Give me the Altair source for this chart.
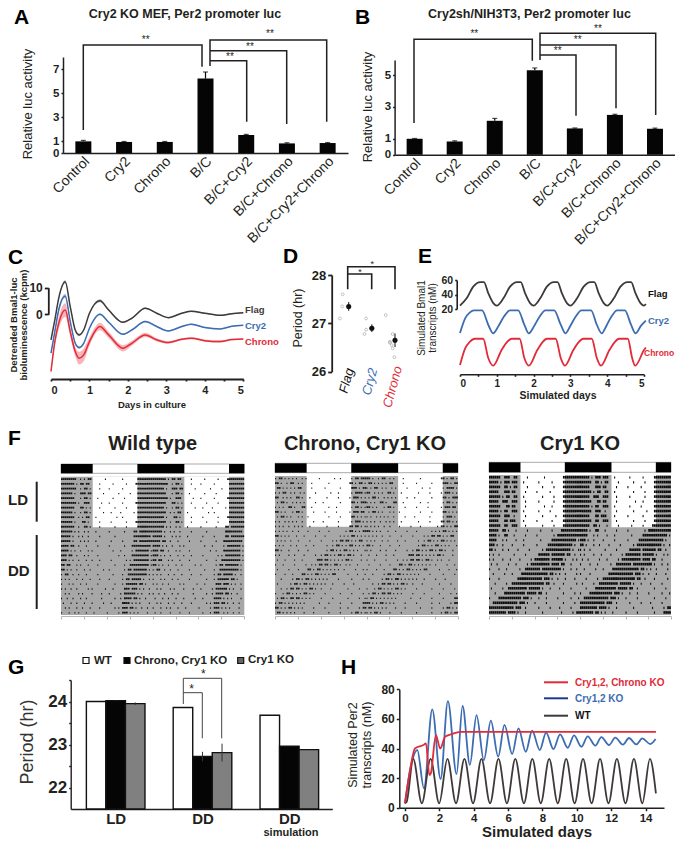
import altair as alt
import pandas as pd

W, H = 667, 831
FONT = "Liberation Sans"
INK = "#231f20"
RED = "#e12b38"
BLUE = "#3c6cb1"
DARK = "#3f3a39"

# ---------- data ----------
cats = ["Control", "Cry2", "Chrono", "B/C", "B/C+Cry2", "B/C+Chrono", "B/C+Cry2+Chrono"]
a_vals = [0.97, 0.92, 0.92, 6.2, 1.5, 0.8, 0.83]
a_errs = [0.08, 0.04, 0.04, 0.55, 0.05, 0.05, 0.04]
b_vals = [1.0, 0.83, 2.13, 5.3, 1.65, 2.5, 1.63]
b_errs = [0.02, 0.04, 0.15, 0.15, 0.03, 0.04, 0.04]

c_days = [0, .1, .2, .37, .5, .63, .73, .85, 1.0, 1.27, 1.5, 1.87, 2.1, 2.45, 2.75, 3.05, 3.4, 3.65, 4, 4.4, 4.7, 5]
c_flag = [-9.6, -2.1, 6, 12.2, 2.9, -5.9, -7.75, -5.9, .4, 5.1, 1.6, -3, -1.5, 2.25, .4, -1.25, .4, 1.1, .4, -.4, .25, .6]
c_cry2 = [-14.6, -6.5, 1.6, 6.9, -2.75, -10.9, -12.5, -10.9, -5.25, 0, -3, -7.5, -5.9, -2.75, -4.6, -6.25, -4.6, -3.75, -5, -5.5, -4.5, -4.1]
c_chrono = [-21.5, -10.25, -3.4, 1.6, -6.5, -14, -16.5, -15.25, -10.25, -4.6, -7.75, -12.75, -10.9, -7.75, -9.6, -10.6, -9.4, -9, -9.9, -10.25, -9.5, -9.25]
c_flag_sd = [.2, .4, .5, .6, .4, .4, .5, .4, .3, .6, .4, .3, .3, .3, .2, .2, .2, .2, .2, .2, .2, .2]
c_cry2_sd = [.3, .5, .8, .8, .5, .5, .5, .5, .4, .4, .3, .3, .3, .3, .3, .2, .3, .3, .2, .2, .2, .2]
c_chrono_sd = [.8, 1.6, 2.2, 2.6, 1.8, 1.8, 2.4, 2.4, 1.6, 1.4, 1.2, 1.2, .9, .8, .6, .5, .4, .4, .4, .4, .3, .3]

d_dot_x = [-.38, -.28, -.26, .68, .75, .75, .96, 1.6, 1.78, 1.78, 1.86, 1.9, 1.9, 1.97]
d_dot_y = [27.1, 27.35, 27.6, 26.78, 26.87, 27.1, 26.9, 27.17, 26.6, 26.62, 26.55, 26.78, 26.48, 26.3]
d_pos = [0, 1, 2]
d_mean = [27.35, 26.9, 26.65]
d_err = [.09, .08, .14]

e_flag_d = [0, .18, .36, .55, .65, .77, .91, 1.0, 1.18, 1.36, 1.55, 1.65, 1.77, 1.91, 2.0, 2.18, 2.36, 2.55, 2.65, 2.77, 2.91, 3.0,
            3.18, 3.36, 3.55, 3.65, 3.77, 3.91, 4.0, 4.18, 4.36, 4.55, 4.65, 4.77, 4.91, 5.0, 5.05]
e_flag_v = [24.6, 34.7, 50.8, 57.2, 57.2, 41.6, 27.8, 24.6, 34.7, 50.8, 57.2, 57.2, 41.6, 27.8, 24.6, 34.7, 50.8, 57.2, 57.2, 41.6, 27.8, 24.6,
            34.7, 50.8, 57.2, 57.2, 41.6, 27.8, 24.6, 34.7, 50.8, 57.2, 57.2, 41.6, 27.8, 24.6, 27]
e_cry2_d = [0, .14, .27, .38, .6, .77, .9, 1.05, 1.2, 1.36, 1.58, 1.75, 1.87, 2.02, 2.17, 2.32, 2.56, 2.74, 2.87, 3.0, 3.15, 3.3, 3.56, 3.72,
            3.85, 3.98, 4.12, 4.27, 4.48, 4.65, 4.77, 4.92, 5.05]
e_cry2_v = [-13.2, 7.1, 15.4, 18.1, 18.1, -2.1, -13.6, -3, 10, 18.1, 18.1, -2, -13.6, -3, 10, 18.1, 18.1, -2, -13.6, -3, 10, 18.1, 18.1, -2,
            -13.6, -3, 10, 18.1, 18.1, -2, -13.6, -3, 4]
e_chrono_d = [0, .14, .27, .4, .63, .77, .9, 1.13, 1.27, 1.4, 1.62, 1.75, 1.87, 2.1, 2.24, 2.36, 2.6, 2.74, 2.85, 3.08, 3.22, 3.35, 3.58, 3.72,
              3.83, 4.06, 4.2, 4.32, 4.56, 4.68, 4.76, 5.0, 5.05]
e_chrono_v = [-57.3, -34.3, -25.1, -21, -21, -48, -58.2, -36.6, -26, -21, -21, -48, -58.2, -36.6, -26, -21, -21, -48, -58.2, -36.6, -26, -21, -21, -48,
              -58.2, -36.6, -26, -21, -21, -48, -58.2, -36.6, -33]

f_dark = [(0, 8.3), (20, 32.3), (44, 48)]
f_light = [(8.3, 20), (32.3, 44)]
wt_rows = [
 "########..#. #.##.......# ........#... ....########",
 "#######.#.## .##.....#... ...#......#. ...#########",
 "########..#. ##.#....#... .#......#... ....########",
 "######.#..## #.##......#. ......#..... #...########",
 "#######...#. ##.#...#.... ...#.....#.. ....########",
 "########.#.. ###......#.. .#......#... ...#########",
 "#######...## .#.#....#... ....#.....#. ....########",
 "######.#..#. ##.#......#. ..#....#.... ..#.########",
 "#######..#.# .##...#..... .....#..#... ....########",
 "######.#...# #.#.....#... ..#.......#. ...#########",
 "#######..#.. ##.#....#... ....#.....#. ....########",
 "######.#.#.. #.#...#..... .#.......#.. ..##.#######",
 "#####.#..#.# ..#.....#... ....#....... ..#########.",
 "#####.#...#. #.#...#..... ..#.....#... ..##.#######",
 "####.##..#.. .#.....#.... .#.......#.. .##########.",
 "####.#.#..#. ..#.#....... ...#...#.... .#.#######.#",
 "###.##..#... #.#....#.... ......#..#.. .#########.#",
 "###.#.#..#.. .#..#...#... ..#.......#. #.########.#",
 "##.##...#.#. ..#....#.... ....#....#.. ##########.#",
 "##.#.#..#... #..#......#. .#.......#.# #.#######.#.",
 "#.##..#..#.. .#.....#.... ...#....#..# #########.#.",
 "#.#.#...#..# ...#....#... .#......#.## .#####.#..#.",
 "#...#.#...#. .#.....#.... ....#...#.## ####.##.#...",
 "#.#..#..#... ..#.#......# ...#.....### .###.#.#..#.",
 "..#.#....#.# ....#....#.. .#.....#.### ###.#.#...#.",
 "#..#..#...#. .#.......#.. ....#..#.### #.##.#..#...",
 ".#...#..#... #...#.....#. ..#.....#### .#.#.#....#.",
 "..#.#...#..# ...#....#... ....#.#.###. ##.#..#..#..",
 "#...#..#.#.. .#...#...... #.....#.###. #.#.#....#..",
 ".#..#....#.. ..#....#.... ..#...#.###. .#.#..#..#..",
]
chrono_rows = [
 "#.##.#.#.#.# ..#.#......# .......#..#. ....#.##.###",
 "##.#..#.##.. #.#....#.... ....#....... ...##.#.##.#",
 ".##.#.#.#.#. ##.....#.... ..#.......#. ....###.#.##",
 "#.#.##..#.#. .#.#.....#.. .....#...#.. ....#.####.#",
 "##..#.#.#..# #.#...#..... ...#.....#.. ...#.###.#.#",
 ".#.##.#..#.# .#.#.....#.. .#........#. ....##.#.###",
 "#.#.#..##.#. ..##...#.... ....#...#... ....#.##.#.#",
 "##.#.#...#.# #.#.....#... ..#.....#... ...#.###.##.",
 ".#.##.#.#... #.#..#...... ....#.....#. ....##.#.#.#",
 "#.#..#.#.#.# ..#.....#... .#.......#.. ....#.###.#.",
 "#.#.#..#..#. #.#...#..... ...#.....#.. ...##.##.#.#",
 "#.#.#.#..#.. #....#.....# ....#....... .#.##.#.#.##",
 "##.#.#.#...# ...#.....#.. ..#.......#. #.#.##.#.#.#",
 ".#.#.#..#... #.....#..... #.....#.#.## .##.#.#.##..",
 "#.#.#...#..# ....#...#... ...#..#.##.# .#.##.#.#.#.",
 "##.#...#.... #....#...... ...#.##.#.#. ##.#.#.#...#",
 "#.#....#..#. ...#.....#.. #.##.#.#.##. #.##.#...#..",
 ".#...#....#. ..#.......## #.##.#.#.#.# .##.#....#..",
 "#...#.....#. ....#..#.#.# #.##.#.##.#. .#.#...#....",
 ".#.....#.... #....##.#.## .#.#.#.#.#.. #.....#...#.",
 "#....#...#.. ..##.#.#.##. #.#.#.##.... ..#....#...#",
 "...#.....#.# #.#.##.#.#.# .#.#.....#.. ....#.....#.",
 ".#......#.## .#.##.#.#.#. #.#...#..... #....#......",
 "...#..#.##.# #.#.#.##.#.. #....#...... ..#.....#...",
 "#...#.##.#.# .#.##.#.#... ..#.......#. ....#.....#.",
 ".#.##.#.##.# #.#.#.#..... #.....#..... ..#.....#..#",
 "#.##.#.#.#.# .#.#.......# ....#.....#. ....#.....##",
 "##.#.#.##.#. #.#.....#... ..#.......#. ..#.....#.##",
 ".##.#.#.#.#. ...#....#... ....#.....#. ....#.##.#.#",
 "#.#.##.#.... #.....#..... ..#.......#. ...#.##.#.##",
]
cry1_rows = [
 "######..###. .##.....#... .....#...... ...#########",
 "#####.#.###. ###...#..... ..#......#.. ...#########",
 "######..##.# .##.....#... ....#.....#. ...#########",
 "#####...###. ##.....#.... .#......#... ...#########",
 "######.#.##. .##...#..... ....#.....#. ...#########",
 "#####..###.. ###....#.... ..#.......#. ...#########",
 "######...##. ##.....#.... .....#...#.. ...#########",
 "#####.#.##.. ###...#..... ..#.....#... ...#########",
 "######..###. .#.....#.... ....#......# ...#########",
 "#####...##.# ##....#..... .#.......#.. ...#########",
 "######..##.. ###....#.... ....#.....#. ...#########",
 "#####..##.#. ..#.....#... ...#.....#.. ..##########",
 "####.#..##.. .#.....#.... .#........#. ############",
 "####...#.#.. ..#...#..... ...#.....### ##########.#",
 "###.#..#.... #.....#..... .#.....##### ########.#..",
 "##.#...#..#. ...#.....#.. ....#.###### #######.#..#",
 "#.#..#...... .#.....#.... ..######.### ####.##..#..",
 "#.#....#...# ....#.....#. ########.### ###.#...#.#.",
 ".#..#.....#. ..#.....#.## ########.### #.##...#....",
 "#....#...#.. ....#..##### ###.######## ##.#...#..#.",
 "..#.....#... #....####### #######.##.# .#..#.....#.",
 "#....#...... ...######### ####.###.#.. #...#....#..",
 "...#.....#.. ############ #####.##..#. ...#......#.",
 ".#.....#..## ########.### ###.#...#... .#.....#....",
 "...#....#### #######.#### #.##..#..... ...#.....#..",
 "#....####### #####.###.#. ..#...#..... #......#...#",
 "..########## ###.###.#... #.....#..... ...#.....#..",
 "############ #.###..#.... ..#.....#... .#.....#....",
 "#########.## ##.#...#.... ....#....... ..#.....#.##",
 "#######.##.# .#...#...... #.....#..... ...#....####",
]

g_groups = [0, 0, 0, 1, 1, 1, 2, 2, 2]
g_series = [0, 1, 2, 0, 1, 2, 0, 1, 2]
g_vals = [24.0, 24.02, 23.95, 23.86, 22.72, 22.81, 23.68, 22.96, 22.88]
g_errs = [0, .01, .03, 0, .11, .21, 0, 0, 0]
g_colors = ["white", "#050505", "#808080"]

h_wt_d = [0, .1, .48, .98, 1.49, 1.99, 2.47, 2.97, 3.46, 3.96, 4.45, 4.95, 5.44, 5.93, 6.42, 6.92, 7.41, 7.9, 8.39, 8.89, 9.38, 9.87, 10.36, 10.86,
          11.35, 11.84, 12.33, 12.83, 13.32, 13.81, 14.25, 14.6]
h_wt_v = [3, 4, 33, 3, 33, 3, 33, 3, 33, 3, 33, 3, 33, 3, 33, 3, 33, 3, 33, 3, 33, 3, 33, 3, 33, 3, 33, 3, 33, 3, 33, 9.7]
h_blue_x = [195, 210, 232, 252, 277, 302, 324, 350, 368, 390, 410, 432, 453, 475, 494, 517, 536, 558, 577, 600, 619, 641, 661, 684, 703, 725, 744, 767,
            785, 808, 827, 850, 868, 890, 908, 932, 948]
h_blue_v = [3, 25, 39, 13, 66.5, 19.4, 72, 22.7, 68.7, 29, 62.6, 32, 58.8, 34.5, 55.9, 36.3, 53.6, 37.8, 52, 39, 50.7, 39.6, 49.5, 40.5, 48.9, 41.2, 48.2, 41.9,
            47.7, 42.3, 47.3, 42.6, 47.1, 42.8, 46.8, 43, 46.4]
h_red_d = [0, .29, .58, 1.07, 1.22, 1.42, 1.5, 1.8, 2.05, 2.34, 2.73, 3.2, 4, 8, 12, 14.6]
h_red_v = [3, 25, 40, 42.3, 43.5, 22, 23, 49, 40, 48, 49.8, 51.3, 51.3, 51.3, 51.3, 51.3]

# ---------- helpers ----------
layers = []
px = lambda v: v - 8


def qscale(domain, r0, r1):
    return alt.Scale(domain=domain, range=[px(r0), px(r1)], nice=False, zero=False)


def txt(x, y, s, size=12, bold=True, color=INK, angle=0, align="center", baseline="middle", italic=False, font=FONT):
    kw = dict(text=s, fontSize=size, font=font, fontWeight="bold" if bold else "normal", color=color,
              align=align, baseline=baseline)
    if angle:
        kw["angle"] = angle
    if italic:
        kw["fontStyle"] = "italic"
    layers.append(alt.Chart(pd.DataFrame({"k": [0]})).mark_text(**kw).encode(x=alt.value(px(x)), y=alt.value(px(y))))


def path(pts, color="#231f20", width=1.5):
    d = pd.DataFrame({"x": [px(p[0]) for p in pts], "y": [px(p[1]) for p in pts], "o": list(range(len(pts)))})
    layers.append(alt.Chart(d).mark_line(color=color, strokeWidth=width, clip=False).encode(
        x=alt.X("x:Q", scale=None, axis=None), y=alt.Y("y:Q", scale=None, axis=None), order="o:Q"))


def yaxis(xpos, values, size=12, width=1.5, tick=3, expr="'' + datum.value", color=INK):
    return alt.Axis(values=values, orient="left", offset=-px(xpos), title=None, grid=False, labelFont=FONT, labelFontSize=size,
                    labelFontWeight="bold", labelColor=color, domainColor=color, tickColor=color, domainWidth=width, tickWidth=width,
                    tickSize=tick, labelPadding=2, labelExpr=expr, labelOverlap=False)


def xaxis(ypos, values, size=11, width=1.5, tick=3, expr="'' + datum.value", color=INK, padding=2):
    return alt.Axis(values=values, orient="bottom", offset=-(H - px(ypos)), title=None, grid=False, labelFont=FONT, labelFontSize=size,
                    labelFontWeight="bold", labelColor=color, domainColor=color, tickColor=color, domainWidth=width, tickWidth=width,
                    tickSize=tick, labelPadding=padding, labelAngle=0, labelExpr=expr, labelOverlap=False)


def barpanel(vals, errs, x0, x1, ybase, ytop, dom, ticks):
    d = pd.DataFrame({"cat": cats, "v": vals, "hi": [a + b for a, b in zip(vals, errs)]})
    xs = alt.Scale(domain=cats, range=[px(x0), px(x1)], paddingInner=0, paddingOuter=0)
    ys = qscale([0, dom], ybase, ytop)
    xax = alt.Axis(orient="bottom", offset=-(H - px(ybase)), title=None, grid=False, labelAngle=-45, labelAlign="right",
                   labelBaseline="middle", labelFont=FONT, labelFontSize=14, labelColor=INK, tickSize=0, labelPadding=6,
                   labelOffset=4, domainColor=INK, domainWidth=1.5, labelOverlap=False, labelFlush=False, labelBound=False)
    layers.append(alt.Chart(d).mark_bar(color="#050505", size=16).encode(
        x=alt.X("cat:N", sort=cats, scale=xs, axis=xax),
        y=alt.Y("v:Q", scale=ys, axis=yaxis(x0, ticks, size=11.5, tick=2))))
    layers.append(alt.Chart(d).mark_rule(color="#050505", strokeWidth=1.2).encode(
        x=alt.X("cat:N", sort=cats, scale=xs, axis=None),
        y=alt.Y("v:Q", scale=ys, axis=None), y2="hi:Q"))
    layers.append(alt.Chart(d).mark_tick(color="#050505", size=5, thickness=1.2).encode(
        x=alt.X("cat:N", sort=cats, scale=xs, axis=None),
        y=alt.Y("hi:Q", scale=ys, axis=None)))


# ---------- panel A ----------
txt(14, 23.5, "A", 21, align="left", baseline="alphabetic", color="#000")
txt(185, 14, "Cry2 KO MEF, Per2 promoter luc", 12.5)
txt(28, 104, "Relative luc activity", 13, bold=False, angle=270)
barpanel(a_vals, a_errs, 63, 348, 153, 57, 8, [0, 1, 3, 5, 7])
path([(83.3, 130), (83.3, 45), (202, 45), (202, 66.7)])
path([(210, 66), (210, 40), (326.7, 40), (326.7, 121.7)])
path([(210, 50.7), (286.7, 50.7), (286.7, 124)])
path([(210, 60.7), (246.7, 60.7), (246.7, 121.7)])
for x, y in [(145.7, 40), (270, 34), (250, 47), (230, 57)]:
    txt(x, y, "**", 10, bold=False)

# ---------- panel B ----------
txt(355, 23.5, "B", 21, align="left", baseline="alphabetic", color="#000")
txt(529.5, 14, "Cry2sh/NIH3T3, Per2 promoter luc", 12.5)
txt(368, 107, "Relative luc activity", 13, bold=False, angle=270)
barpanel(b_vals, b_errs, 394.6, 675, 154.7, 60, 5.95, [0, 1, 3, 5])
path([(414, 123), (414, 39.3), (532.3, 39.3), (532.3, 60.7)])
path([(540, 60), (540, 33.3), (655.7, 33.3), (655.7, 115)])
path([(540, 45), (616, 45), (616, 108.3)])
path([(540, 55), (576, 55), (576, 115.7)])
for x, y in [(474.3, 34), (598, 29), (577.7, 40), (557.7, 51)]:
    txt(x, y, "**", 10, bold=False)

# ---------- panel C ----------
txt(8, 264, "C", 21, align="left", baseline="alphabetic", color="#000")
cx = qscale([0, 5], 51, 243.3)
cy = qscale([0, 10], 314.3, 287.7)
for vals, sds, col, pale in [(c_flag, c_flag_sd, DARK, "#a9a5a4"), (c_cry2, c_cry2_sd, BLUE, "#a4bbdc"), (c_chrono, c_chrono_sd, RED, "#f6a9ae")]:
    t = pd.DataFrame({"d": c_days, "v": vals, "lo": [a - b for a, b in zip(vals, sds)], "hi": [a + b for a, b in zip(vals, sds)]})
    layers.append(alt.Chart(t).mark_area(color=pale, interpolate="monotone", opacity=0.85).encode(
        x=alt.X("d:Q", scale=cx, axis=None), y=alt.Y("lo:Q", scale=cy, axis=None), y2="hi:Q"))
    layers.append(alt.Chart(t).mark_line(color=col, strokeWidth=1.5, interpolate="monotone").encode(
        x=alt.X("d:Q", scale=cx, axis=None), y=alt.Y("v:Q", scale=cy, axis=None)))
t = pd.DataFrame({"d": [0, 5], "v": [0, 10]})
layers.append(alt.Chart(t).mark_point(opacity=0).encode(
    x=alt.X("d:Q", scale=cx, axis=xaxis(379, [0, .5, 1, 1.5, 2, 2.5, 3, 3.5, 4, 4.5, 5], size=11, width=1.8, tick=2,
                                        expr="datum.value % 1 == 0 ? datum.value : ''", padding=3)),
    y=alt.Y("v:Q", scale=cy, axis=yaxis(48.3, [0, 10], size=12, width=1.8, tick=4))))
txt(152, 405, "Days in culture", 9.5)
txt(13.5, 325, "Detrended Bmal1-luc", 9.5, angle=270)
txt(23.5, 325, "bioluminescence (kcpm)", 9.5, angle=270)
txt(245, 310, "Flag", 9.5, align="left", color=DARK)
txt(245, 326, "Cry2", 9.5, align="left", color=BLUE)
txt(245, 342, "Chrono", 9.5, align="left", color=RED)

# ---------- panel D ----------
txt(283, 263, "D", 21, align="left", baseline="alphabetic", color="#000")
dx = qscale([0, 2], 348.7, 395)
dy = qscale([26, 28], 371.7, 275)
t = pd.DataFrame({"p": d_dot_x, "v": d_dot_y})
layers.append(alt.Chart(t).mark_point(color="#8c8c8c", size=8, strokeWidth=0.7).encode(
    x=alt.X("p:Q", scale=dx, axis=None), y=alt.Y("v:Q", scale=dy, axis=yaxis(331.7, [26, 27, 28], size=13, width=1.8, tick=4))))
t = pd.DataFrame({"p": d_pos, "v": d_mean, "lo": [a - b for a, b in zip(d_mean, d_err)], "hi": [a + b for a, b in zip(d_mean, d_err)]})
layers.append(alt.Chart(t).mark_rule(color="#111", strokeWidth=1).encode(
    x=alt.X("p:Q", scale=dx, axis=None), y=alt.Y("lo:Q", scale=dy, axis=None), y2="hi:Q"))
layers.append(alt.Chart(t).mark_circle(color="#111", size=26, opacity=1).encode(
    x=alt.X("p:Q", scale=dx, axis=None), y=alt.Y("v:Q", scale=dy, axis=None)))
path([(347.7, 289.3), (347.7, 266.7), (395, 266.7), (395, 289.3)], width=1.6)
path([(347.7, 274), (371.7, 274), (371.7, 289.3)], width=1.6)
txt(372.3, 264, "*", 9, bold=False)
txt(360, 271.5, "*", 9, bold=False)
txt(298, 318, "Period (hr)", 12.5, bold=False, angle=270)
txt(346.7, 380.7, "Flag", 13, bold=False, angle=285, italic=True, color="#111")
txt(370, 381.7, "Cry2", 13, bold=False, angle=285, italic=True, color=BLUE)
txt(392.7, 387, "Chrono", 13, bold=False, angle=285, italic=True, color=RED)

# ---------- panel E ----------
txt(418, 263, "E", 21, align="left", baseline="alphabetic", color="#000")
ex = qscale([0, 5], 460, 644)
ey = qscale([20, 60], 309, 280)
for days, vals, col in [(e_flag_d, e_flag_v, DARK), (e_cry2_d, e_cry2_v, BLUE), (e_chrono_d, e_chrono_v, RED)]:
    t = pd.DataFrame({"d": days, "v": vals})
    layers.append(alt.Chart(t).mark_line(color=col, strokeWidth=1.8, interpolate="monotone").encode(
        x=alt.X("d:Q", scale=ex, axis=None), y=alt.Y("v:Q", scale=ey, axis=None)))
t = pd.DataFrame({"d": [0, 5], "v": [20, 60]})
layers.append(alt.Chart(t).mark_point(opacity=0).encode(
    x=alt.X("d:Q", scale=ex, axis=xaxis(374.3, [0, .5, 1, 1.5, 2, 2.5, 3, 3.5, 4, 4.5, 5], size=10, width=1.6, tick=2,
                                        expr="datum.value % 1 == 0 ? datum.value : ''")),
    y=alt.Y("v:Q", scale=ey, axis=yaxis(456.7, [20, 40, 60], size=10.5, width=1.6, tick=2))))
txt(558, 395.7, "Simulated days", 10.5)
txt(421.7, 318, "Simulated Bmal1", 10, bold=False, angle=270)
txt(432.7, 318, "transcripts (nM)", 10, bold=False, angle=270)
txt(648, 294, "Flag", 9.5, align="left", color="#111")
txt(648, 321, "Cry2", 9.5, align="left", color=BLUE)
txt(644, 353, "Chrono", 8.5, align="left", color=RED)

# ---------- panel F ----------
txt(8, 445, "F", 21, align="left", baseline="alphabetic", color="#000")
txt(8, 500, "LD", 15, align="left")
txt(8, 571, "DD", 15, align="left")
path([(36.7, 481.7), (36.7, 521.7)], width=2)
path([(36.7, 535), (36.7, 609)], width=2)


def acto(rows, x0, x1, ytop, ylight, ybot, bar0, bar1, title, tx, tw, pad, edge):
    clean = [r.replace(" ", "") for r in rows]
    hs, rs, solo = [], [], []

    def add(s, r, shift):
        for i, c in enumerate(s):
            if c == "#":
                hs.append(shift + i / 2)
                rs.append(r)
                left = s[i - 1] if i > 0 else "."
                right = s[i + 1] if i < len(s) - 1 else "."
                solo.append(left != "#" and right != "#")

    for r in range(29):
        add(clean[r], r, 0)
        add(clean[r + 1], r, 24)
    xs = qscale([0, 48], x0, x1)
    ys = qscale([0, 29], ytop, ybot)
    bg = pd.DataFrame({"a": [0], "b": [48], "c": [0], "d": [29]})
    layers.append(alt.Chart(bg).mark_rect(color="#a7a7a7").encode(
        x=alt.X("a:Q", scale=xs, axis=xaxis(ybot + 1, list(range(0, 49, 6)), width=1, tick=3, color="#b5b5b5", expr="''")),
        x2="b:Q", y=alt.Y("c:Q", scale=ys, axis=None), y2="d:Q"))
    lr = (ylight - ytop) / (ybot - ytop) * 29
    wh = pd.DataFrame({"a": [s[0] for s in f_light], "b": [s[1] for s in f_light], "c": [0, 0], "d": [lr, lr]})
    layers.append(alt.Chart(wh).mark_rect(color="white").encode(
        x=alt.X("a:Q", scale=xs, axis=None), x2="b:Q", y=alt.Y("c:Q", scale=ys, axis=None), y2="d:Q"))
    cells = pd.DataFrame({"a": hs, "c": rs, "solo": solo})
    cells["b"] = cells["a"] + cells["solo"].map({True: 0.28, False: 0.46})
    cells["t"] = cells["c"] + pad[0] + cells["solo"].map({True: 0.1, False: 0.0})
    cells["u"] = cells["c"] + pad[1]
    layers.append(alt.Chart(cells).mark_rect(color=edge).encode(
        x=alt.X("a:Q", scale=xs, axis=None), x2="b:Q", y=alt.Y("t:Q", scale=ys, axis=None), y2="u:Q"))
    layers.append(alt.Chart(pd.DataFrame({"a": [0], "b": [48]})).mark_rect(color="white", stroke="#aaaaaa", strokeWidth=1).encode(
        x=alt.X("a:Q", scale=xs, axis=None), x2="b:Q", y=alt.value(px(bar0)), y2=alt.value(px(bar1))))
    dk = pd.DataFrame({"a": [s[0] for s in f_dark], "b": [s[1] for s in f_dark]})
    layers.append(alt.Chart(dk).mark_rect(color="#000").encode(
        x=alt.X("a:Q", scale=xs, axis=None), x2="b:Q", y=alt.value(px(bar0)), y2=alt.value(px(bar1))))
    txt(tx, 444, title, tw)


acto(wt_rows, 61, 244.3, 476.7, 527.3, 615, 464, 473.3, "Wild type", 152.7, 20, (.3, .68), "#101010")
acto(chrono_rows, 275, 458, 476, 526.7, 615, 463.3, 472.7, "Chrono, Cry1 KO", 365, 20, (.3, .68), "#1a1a1a")
acto(cry1_rows, 489, 671, 475, 527.3, 615, 462.3, 472.3, "Cry1 KO", 580, 20, (.2, .74), "#0a0a0a")

# ---------- panel G ----------
txt(8, 674, "G", 21, align="left", baseline="alphabetic", color="#000")
gx = qscale([-0.518, 2.495], 70.7, 332.3)
gy = qscale([21.5, 24.5], 809, 680)
bw = 0.225
t = pd.DataFrame({"g": g_groups, "s": g_series, "v": g_vals, "e": g_errs})
t["a"] = t["g"] + (t["s"] - 1.5) * bw
t["b"] = t["a"] + bw
t["m"] = (t["a"] + t["b"]) / 2
t["base"] = 21.5
t["hi"] = t["v"] + t["e"]
t["lo"] = t["v"] - t["e"]
t["fill"] = [g_colors[s] for s in g_series]
layers.append(alt.Chart(t).mark_rect(stroke="#111", strokeWidth=1.4).encode(
    x=alt.X("a:Q", scale=gx, axis=None), x2="b:Q",
    y=alt.Y("v:Q", scale=gy, axis=None), y2="base:Q",
    fill=alt.Fill("fill:N", scale=None)))
layers.append(alt.Chart(t[t.e > 0]).mark_rule(color="#333", strokeWidth=1).encode(
    x=alt.X("m:Q", scale=gx, axis=None), y=alt.Y("lo:Q", scale=gy, axis=None), y2="hi:Q"))
ax_df = pd.DataFrame({"g": [0, 1, 2], "v": [22, 23, 24]})
layers.append(alt.Chart(ax_df).mark_point(opacity=0).encode(
    x=alt.X("g:Q", scale=gx, axis=xaxis(809, [0, 1, 2], size=15, width=1.6, tick=0, expr="['LD','DD','DD'][datum.value]", padding=2)),
    y=alt.Y("v:Q", scale=gy, axis=yaxis(70.7, [22, 22.5, 23, 23.5, 24, 24.5], size=17, width=1.4, tick=2,
                                        expr="datum.value % 1 == 0 ? datum.value : ''"))))
txt(291, 833, "simulation", 11)
txt(28, 742, "Period (hr)", 18, bold=False, angle=270, color="#333")
path([(183.3, 704), (183.3, 678.3), (221.7, 678.3), (221.7, 738.3)], color="#444", width=1)
path([(183.3, 692.7), (202.3, 692.7), (202.3, 738.3)], color="#444", width=1)
txt(203.3, 674, "*", 12, bold=False)
txt(191.7, 689, "*", 12, bold=False)
leg = pd.DataFrame({"x": [px(86), px(127), px(240.7)], "c": ["white", "#050505", "#666666"]})
layers.append(alt.Chart(leg).mark_square(size=36, stroke="#111", strokeWidth=1.2, opacity=1).encode(
    x=alt.X("x:Q", scale=None, axis=None), y=alt.value(px(660.5)), fill=alt.Fill("c:N", scale=None)))
txt(94, 661, "WT", 11.5, align="left")
txt(134, 660.5, "Chrono, Cry1 KO", 11.5, align="left")
txt(248, 660, "Cry1 KO", 11.5, align="left")

# ---------- panel H ----------
txt(341, 674, "H", 21, align="left", baseline="alphabetic", color="#000")
hx = qscale([-0.33, 15.07], 399.3, 664)
hy = qscale([0, 80], 807.7, 689.3)
h_blue_d = [(x - 195) / 51.64 for x in h_blue_x]
for days, vals, col in [(h_blue_d, h_blue_v, BLUE), (h_wt_d, h_wt_v, DARK), (h_red_d, h_red_v, RED)]:
    t = pd.DataFrame({"d": days, "v": vals})
    layers.append(alt.Chart(t).mark_line(color=col, strokeWidth=1.8, interpolate="monotone").encode(
        x=alt.X("d:Q", scale=hx, axis=None), y=alt.Y("v:Q", scale=hy, axis=None)))
t = pd.DataFrame({"d": [0, 14], "v": [0, 80]})
layers.append(alt.Chart(t).mark_point(opacity=0).encode(
    x=alt.X("d:Q", scale=hx, axis=xaxis(807.7, [0, 2, 4, 6, 8, 10, 12, 14], size=11.5, width=1.5, tick=3, padding=2)),
    y=alt.Y("v:Q", scale=hy, axis=yaxis(399.3, [0, 20, 40, 60, 80], size=12, width=1.5, tick=3))))
txt(537, 832, "Simulated days", 15)
txt(353.3, 745, "Simulated Per2", 12.5, bold=False, angle=270)
txt(367, 745, "transcripts (nM)", 12.5, bold=False, angle=270)
path([(544, 682.3), (568, 682.3)], color=RED, width=2)
path([(544, 698.3), (568, 698.3)], color="#1e3a8c", width=2)
path([(544, 715.7), (568, 715.7)], color=DARK, width=2)
txt(575, 682.5, "Cry1,2, Chrono KO", 10, align="left", color=RED)
txt(575, 698.5, "Cry1,2 KO", 10, align="left", color=BLUE)
txt(575, 715.5, "WT", 10, align="left", color="#111")

chart = (
    alt.layer(*layers)
    .resolve_scale(x="independent", y="independent")
    .properties(width=W, height=H, padding=0, autosize=alt.AutoSizeParams(type="none"))
    .configure_view(stroke=None)
)
chart.save("out.html", embed_options={"renderer": "svg", "actions": False})
